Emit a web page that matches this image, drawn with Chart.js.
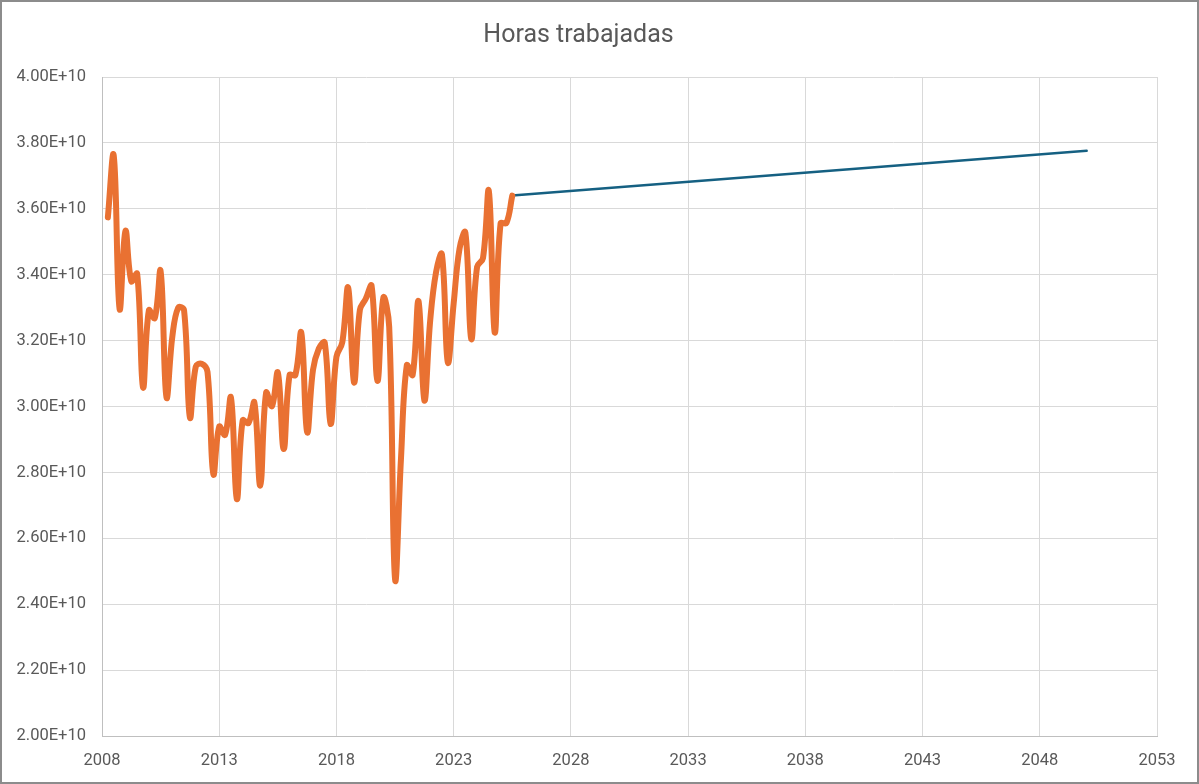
<!DOCTYPE html>
<html>
<head>
<meta charset="utf-8">
<title>Horas trabajadas</title>
<script src="https://cdn.jsdelivr.net/npm/chart.js@4"></script>
<style>
    html, body { margin: 0; padding: 0; background: #fff; }
    #wrap { position: relative; width: 1199px; height: 784px; }
    #chart { position: absolute; left: 0; top: 0; }
    #frame {
        position: absolute; left: 0; top: 0; width: 1199px; height: 784px;
        box-sizing: border-box; border: 2px solid #8c8c8c; pointer-events: none;
    }
</style>
</head>
<body>
<div id="wrap">
    <canvas id="chart" width="1199" height="784"></canvas>
    <div id="frame"></div>
</div>
<script>
// trimestres (año decimal)
const trimestres = [
    2008.25, 2008.5, 2008.75,
    2009, 2009.25, 2009.5, 2009.75,
    2010, 2010.25, 2010.5, 2010.75,
    2011, 2011.25, 2011.5, 2011.75,
    2012, 2012.25, 2012.5, 2012.75,
    2013, 2013.25, 2013.5, 2013.75,
    2014, 2014.25, 2014.5, 2014.75,
    2015, 2015.25, 2015.5, 2015.75,
    2016, 2016.25, 2016.5, 2016.75,
    2017, 2017.25, 2017.5, 2017.75,
    2018, 2018.25, 2018.5, 2018.75,
    2019, 2019.25, 2019.5, 2019.75,
    2020, 2020.25, 2020.5, 2020.75,
    2021, 2021.25, 2021.5, 2021.75,
    2022, 2022.25, 2022.5, 2022.75,
    2023, 2023.25, 2023.5, 2023.75,
    2024, 2024.25, 2024.5, 2024.75,
    2025, 2025.25, 2025.5
];

// horas trabajadas, en unidades de 1E+10
const horas = [
    3.574, 3.762, 3.296,
    3.533, 3.380, 3.403, 3.058,
    3.292, 3.268, 3.411, 3.028,
    3.212, 3.300, 3.292, 2.967,
    3.121, 3.130, 3.105, 2.795,
    2.939, 2.914, 3.027, 2.719,
    2.958, 2.950, 3.012, 2.760,
    3.042, 3.001, 3.103, 2.871,
    3.095, 3.096, 3.224, 2.922,
    3.111, 3.176, 3.194, 2.947,
    3.151, 3.195, 3.361, 3.073,
    3.293, 3.327, 3.366, 3.078,
    3.330, 3.242, 2.476, 2.838,
    3.125, 3.096, 3.320, 3.018,
    3.262, 3.408, 3.462, 3.134,
    3.313, 3.479, 3.528, 3.205,
    3.424, 3.450, 3.654, 3.225,
    3.555, 3.557, 3.640
];

// proyección
const proyAnios = [2025.5, 2050];
const proyHoras = [3.640, 3.776];

const ESCALA = 1e10;
const yTicks = [2.0, 2.2, 2.4, 2.6, 2.8, 3.0, 3.2, 3.4, 3.6, 3.8, 4.0];
const xTicks = [2008, 2013, 2018, 2023, 2028, 2033, 2038, 2043, 2048, 2053];

const toPoints = (xs, ys) => xs.map((x, i) => ({ x: x, y: ys[i] * ESCALA }));

const FONT = 'Roboto, "Open Sans", sans-serif';
const GRIS = '#595959';

const ctx = document.getElementById('chart').getContext('2d');

new Chart(ctx, {
    type: 'scatter',
    data: {
        datasets: [
            {
                label: 'Horas trabajadas',
                data: toPoints(trimestres, horas),
                showLine: true,
                borderColor: '#E97132',
                borderWidth: 6,
                pointRadius: 0,
                tension: 0.4,
                borderCapStyle: 'round',
                borderJoinStyle: 'round'
            },
            {
                label: 'Proyección',
                data: toPoints(proyAnios, proyHoras),
                showLine: true,
                borderColor: '#156082',
                borderWidth: 2.5,
                pointRadius: 0,
                borderCapStyle: 'round'
            }
        ]
    },
    options: {
        responsive: false,
        animation: false,
        layout: {
            padding: { left: 0, right: 42, top: 0, bottom: 0 }
        },
        plugins: {
            legend: { display: false },
            tooltip: { enabled: false },
            title: {
                display: true,
                text: 'Horas trabajadas',
                color: GRIS,
                font: { family: FONT, size: 25, weight: 'normal' },
                padding: { top: 21, bottom: 26 }
            }
        },
        scales: {
            x: {
                type: 'linear',
                min: 2008,
                max: 2053,
                afterBuildTicks: (scale) => {
                    scale.ticks = xTicks.map(v => ({ value: v }));
                },
                afterFit: (scale) => { scale.height = 48; },
                grid: { color: '#d9d9d9', lineWidth: 1, drawTicks: false },
                border: { color: '#bfbfbf', width: 1 },
                ticks: {
                    color: GRIS,
                    padding: 15,
                    font: { family: FONT, size: 16.5 },
                    callback: (v) => String(v)
                }
            },
            y: {
                type: 'linear',
                min: 2.0 * ESCALA,
                max: 4.0 * ESCALA,
                afterBuildTicks: (scale) => {
                    scale.ticks = yTicks.map(v => ({ value: v * ESCALA }));
                },
                afterFit: (scale) => { scale.width = 102; },
                grid: { color: '#d9d9d9', lineWidth: 1, drawTicks: false },
                border: { color: '#bfbfbf', width: 1 },
                ticks: {
                    color: GRIS,
                    padding: 16,
                    font: { family: FONT, size: 16.5 },
                    callback: (v) => Number(v).toExponential(2).toUpperCase()
                }
            }
        }
    }
});
</script>
</body>
</html>
